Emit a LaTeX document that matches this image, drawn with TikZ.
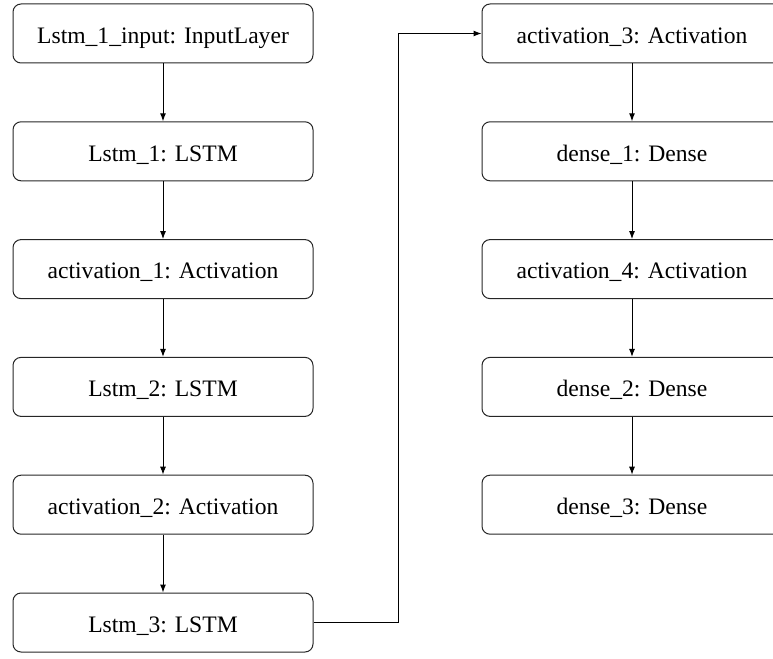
\documentclass[tikz,border=0pt]{standalone}
\usepackage{fontspec}
\setmainfont{Liberation Serif}
\usetikzlibrary{arrows.meta}
\begin{document}
\begin{tikzpicture}[x=1pt,y=-1pt,
  layer/.style={draw=black!85, line width=1pt, rounded corners=8pt,
    minimum width=300pt, minimum height=59pt, inner sep=0pt,
    text height=19.6pt, text depth=0pt,
    font=\fontsize{23.6}{28}\selectfont},
  flow/.style={draw=black, line width=1pt, -{Latex[length=8pt,width=6pt]}}]
\useasboundingbox (0,0) rectangle (773,658);
\clip (0,0) rectangle (773,658);
% left column
\node[layer] (in)  at (163,33.5)  {Lstm\_1\_input: InputLayer};
\node[layer] (l1)  at (163,151.3) {Lstm\_1: LSTM};
\node[layer] (a1)  at (163,269.1) {activation\_1: Activation};
\node[layer] (l2)  at (163,386.9) {Lstm\_2: LSTM};
\node[layer] (a2)  at (163,504.7) {activation\_2: Activation};
\node[layer] (l3)  at (163,622.5) {Lstm\_3: LSTM};
% right column
\node[layer] (a3)  at (632,33.5)  {activation\_3: Activation};
\node[layer] (d1)  at (632,151.3) {dense\_1: Dense};
\node[layer] (a4)  at (632,269.1) {activation\_4: Activation};
\node[layer] (d2)  at (632,386.9) {dense\_2: Dense};
\node[layer] (d3)  at (632,504.7) {dense\_3: Dense};
% connections
\draw[flow] (in) -- (l1);
\draw[flow] (l1) -- (a1);
\draw[flow] (a1) -- (l2);
\draw[flow] (l2) -- (a2);
\draw[flow] (a2) -- (l3);
\coordinate (bend) at (398,0);
\draw[flow] (l3.east) -- (l3.east -| bend) -- (a3.west -| bend) -- (a3.west);
\draw[flow] (a3) -- (d1);
\draw[flow] (d1) -- (a4);
\draw[flow] (a4) -- (d2);
\draw[flow] (d2) -- (d3);
\end{tikzpicture}
\end{document}
